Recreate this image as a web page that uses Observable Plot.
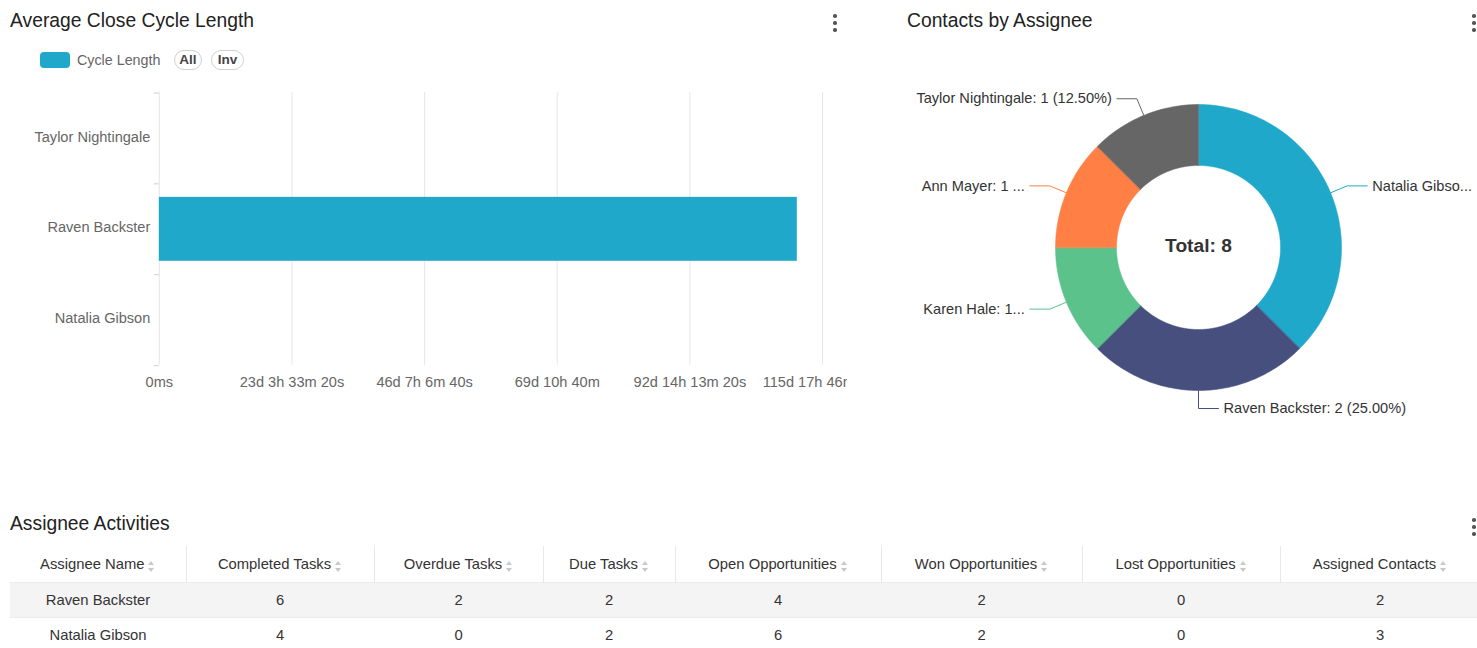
<!DOCTYPE html>
<html>
<head>
<meta charset="utf-8">
<script src="https://cdn.jsdelivr.net/npm/d3@7"></script>
<script src="https://cdn.jsdelivr.net/npm/@observablehq/plot@0.6"></script>
<style>
  html, body { margin: 0; padding: 0; background: #fff; }
  body { width: 1477px; height: 648px; overflow: hidden; position: relative;
         font-family: "Liberation Sans", Arial, sans-serif; color: #333; }
  .abs { position: absolute; }
  .title { font-size: 19.3px; color: #222; line-height: 22px; white-space: nowrap; }
  .kebab { width: 4px; height: 18px; }
  .kebab i { display: block; width: 3.5px; height: 3.5px; border-radius: 50%; background: #555; margin-bottom: 3.5px; }
  .swatch { width: 30px; height: 16px; border-radius: 4px; }
  .legtext { font-size: 14.3px; color: #666; line-height: 16px; }
  .pill { height: 18px; border: 1px solid #d0d0d0; border-radius: 10px; font-size: 13.5px; color: #444;
          line-height: 18px; text-align: center; font-weight: bold; }
  table { border-collapse: collapse; table-layout: fixed; font-size: 14.8px; color: #333; }
  th { font-weight: normal; height: 36px; padding: 0; border-right: 1px solid #e8e8e8; text-align: center; white-space: nowrap; }
  td { height: 34px; padding: 0; text-align: center; border-top: 1px solid #ececec; }
  tr.odd td { background: #f4f4f4; }
  .sort { display: inline-block; width: 7px; height: 11px; position: relative; vertical-align: -3px; margin-left: 4px; }
  .sort:before, .sort:after { content: ""; position: absolute; left: 0; border-left: 3.5px solid transparent; border-right: 3.5px solid transparent; }
  .sort:before { top: 0; border-bottom: 4px solid #c8c8c8; }
  .sort:after { bottom: 0; border-top: 4px solid #c8c8c8; }
</style>
</head>
<body>
<script>
// ---------------- data ----------------
const barNames = ["Taylor Nightingale", "Raven Backster", "Natalia Gibson"];
const barValues = [0, 9.62e9, 0]; // average close cycle length, milliseconds
const xTicks = [0, 2e9, 4e9, 6e9, 8e9, 1e10];
const legendLabel = "Cycle Length";

const sliceNames = ["Natalia Gibson", "Raven Backster", "Karen Hale", "Ann Mayer", "Taylor Nightingale"];
const sliceValues = [3, 2, 1, 1, 1];
const sliceColors = ["#20a8cb", "#474f7e", "#5bc28b", "#ff7f45", "#666666"];
const sliceLabels = ["Natalia Gibso...", "Raven Backster: 2 (25.00%)", "Karen Hale: 1...", "Ann Mayer: 1 ...", "Taylor Nightingale: 1 (12.50%)"];

const tableHeaders = ["Assignee Name", "Completed Tasks", "Overdue Tasks", "Due Tasks", "Open Opportunities", "Won Opportunities", "Lost Opportunities", "Assigned Contacts"];
const tableNames = ["Raven Backster", "Natalia Gibson"];
const completedTasks = [6, 4];
const overdueTasks = [2, 0];
const dueTasks = [2, 2];
const openOpps = [4, 6];
const wonOpps = [2, 2];
const lostOpps = [0, 0];
const assignedContacts = [2, 3];

// ---------------- helpers ----------------
function el(tag, cls, style, html) {
  const e = document.createElement(tag);
  if (cls) e.className = cls;
  if (style) Object.assign(e.style, style);
  if (html != null) e.innerHTML = html;
  document.body.appendChild(e);
  return e;
}
function kebab(x, y) {
  el("div", "abs kebab", {left: x + "px", top: y + "px"}, "<i></i><i></i><i></i>");
}
function fmtDur(ms) {
  if (ms === 0) return "0ms";
  let s = Math.floor(ms / 1000); const rest = ms % 1000;
  const d = Math.floor(s / 86400); s -= d * 86400;
  const h = Math.floor(s / 3600); s -= h * 3600;
  const m = Math.floor(s / 60); s -= m * 60;
  const p = [];
  if (d) p.push(d + "d"); if (h) p.push(h + "h"); if (m) p.push(m + "m"); if (s) p.push(s + "s"); if (rest) p.push(rest + "ms");
  return p.join(" ");
}

// ---------------- titles / legend ----------------
el("div", "abs title", {left: "10px", top: "10px"}, "Average Close Cycle Length");
kebab(833, 14);
el("div", "abs swatch", {left: "40px", top: "52px", background: sliceColors[0]});
el("div", "abs legtext", {left: "77px", top: "52px"}, legendLabel);
el("div", "abs pill", {left: "174px", top: "50px", width: "26px"}, "All");
el("div", "abs pill", {left: "211px", top: "50px", width: "31px"}, "Inv");

el("div", "abs title", {left: "907px", top: "10px"}, "Contacts by Assignee");
kebab(1472, 14);

el("div", "abs title", {left: "10px", top: "513px"}, "Assignee Activities");
kebab(1472, 518);

// ---------------- bar chart ----------------
const barData = barNames.map((n, i) => ({name: n, value: barValues[i]}));
const barWrap = el("div", "abs", {left: "0px", top: "80px", width: "847px", height: "320px", overflow: "hidden"});
const barChart = Plot.plot({
  width: 848, height: 320,
  marginLeft: 159, marginRight: 25, marginTop: 12, marginBottom: 35,
  style: {fontFamily: '"Liberation Sans", Arial, sans-serif', fontSize: "14.6px", background: "transparent", overflow: "visible"},
  x: {domain: [0, 1e10], label: null},
  y: {domain: barNames, paddingInner: 0.3, paddingOuter: 0.15, label: null},
  marks: [
    Plot.gridX(xTicks, {stroke: "#e6e6e6", strokeOpacity: 1}),
    Plot.axisY({tickSize: 5, dy: -45.5, tickFormat: () => "", stroke: "#d0d0d0", label: null}),
    Plot.axisY([barNames[barNames.length - 1]], {tickSize: 5, dy: 45.5, tickFormat: () => "", stroke: "#d0d0d0", label: null}),
    Plot.axisY({tickSize: 0, tickPadding: 9, fill: "#666", label: null, dy: -1.5}),
    Plot.axisX(xTicks, {tickSize: 0, tickPadding: 12, tickFormat: fmtDur, fill: "#666", label: null}),
    Plot.barX(barData, {x: "value", y: "name", fill: sliceColors[0]})
  ]
});
barWrap.appendChild(barChart);

// ---------------- donut chart ----------------
const R = 143, r0 = 82, len1 = 18, len2 = 20;
const arcs = d3.pie().sort(null)(sliceValues);
const total = d3.sum(sliceValues);
const ringPts = [];
arcs.forEach((a, i) => {
  const n = Math.max(2, Math.ceil((a.endAngle - a.startAngle) / (Math.PI / 180)));
  for (let k = 0; k <= n; k++) {
    const t = a.startAngle + (a.endAngle - a.startAngle) * k / n;
    ringPts.push({name: sliceNames[i], x: R * Math.sin(t), y: R * Math.cos(t)});
  }
  for (let k = n; k >= 0; k--) {
    const t = a.startAngle + (a.endAngle - a.startAngle) * k / n;
    ringPts.push({name: sliceNames[i], x: r0 * Math.sin(t), y: r0 * Math.cos(t)});
  }
});
const leadPts = [], labelPts = [];
arcs.forEach((a, i) => {
  const mid = (a.startAngle + a.endAngle) / 2;
  const sx = Math.sin(mid), cy = Math.cos(mid);
  const side = sx >= -1e-9 ? 1 : -1;
  const p1 = {x: (R + len1) * sx, y: (R + len1) * cy};
  leadPts.push({name: sliceNames[i], x: R * sx, y: R * cy});
  leadPts.push({name: sliceNames[i], x: p1.x, y: p1.y});
  leadPts.push({name: sliceNames[i], x: p1.x + side * len2, y: p1.y});
  labelPts.push({label: sliceLabels[i], x: p1.x + side * (len2 + 5), y: p1.y, anchor: side > 0 ? "start" : "end"});
});
const donutWrap = el("div", "abs", {left: "877px", top: "60px", width: "600px", height: "380px", overflow: "hidden"});
const colorScale = {domain: sliceNames, range: sliceColors};
const donut = Plot.plot({
  width: 600, height: 380, margin: 0,
  style: {fontFamily: '"Liberation Sans", Arial, sans-serif', fontSize: "14.6px", background: "transparent", overflow: "visible"},
  x: {domain: [-321, 279], axis: null},
  y: {domain: [-193, 187], axis: null},
  color: colorScale,
  marks: [
    Plot.line(ringPts, {x: "x", y: "y", z: "name", fill: "name", stroke: "name", strokeWidth: 0.5, curve: "linear-closed"}),
    Plot.line(leadPts, {x: "x", y: "y", z: "name", stroke: "name", strokeWidth: 1}),
    Plot.text(labelPts.filter(d => d.anchor === "start"), {x: "x", y: "y", text: "label", textAnchor: "start", fill: "#333"}),
    Plot.text(labelPts.filter(d => d.anchor === "end"), {x: "x", y: "y", text: "label", textAnchor: "end", fill: "#333"}),
    Plot.text([{x: 0, y: 0, t: `Total: ${total}`}], {x: "x", y: "y", text: "t", fontSize: 19.2, fontWeight: "bold", fill: "#333", dy: -2})
  ]
});
donutWrap.appendChild(donut);

// ---------------- table ----------------
const colWidths = [176, 188, 169, 132, 206, 201, 198, 200];
const cols = [tableNames, completedTasks, overdueTasks, dueTasks, openOpps, wonOpps, lostOpps, assignedContacts];
let html = "<colgroup>" + colWidths.map(w => `<col style="width:${w}px">`).join("") + "</colgroup>";
html += "<thead><tr>" + tableHeaders.map(h => `<th>${h}<span class="sort"></span></th>`).join("") + "</tr></thead><tbody>";
tableNames.forEach((_, r) => {
  html += `<tr class="${r % 2 === 0 ? "odd" : ""}">` + cols.map(c => `<td>${c[r]}</td>`).join("") + "</tr>";
});
html += "</tbody>";
const tbl = el("table", "abs", {left: "10px", top: "546px", width: d3.sum(colWidths) + "px"}, html);
</script>
</body>
</html>
